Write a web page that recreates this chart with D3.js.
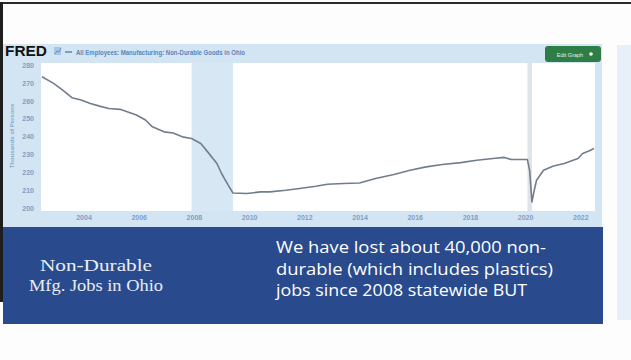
<!DOCTYPE html>
<html><head><meta charset="utf-8">
<script src="https://cdn.jsdelivr.net/npm/d3@7"></script>
<style>html,body{margin:0;padding:0;background:#fff;overflow:hidden;} svg{display:block;}</style>
</head><body><svg id="c" width="631" height="360"></svg>
<script>
// ---- data ----
const dates = ["2002-07","2002-12","2003-04","2003-08","2003-12","2004-04","2004-08","2004-12",
  "2005-05","2005-08","2005-12","2006-04","2006-07","2006-12","2007-04","2007-08","2007-12",
  "2008-04","2008-07","2008-11","2009-01","2009-04","2009-06","2009-12","2010-06","2010-10",
  "2011-05","2011-11","2012-06","2012-11","2013-06","2014-01","2014-08","2015-04","2015-11",
  "2016-06","2017-01","2017-09","2018-04","2018-11","2019-04","2019-07","2020-02","2020-03",
  "2020-04","2020-05","2020-06","2020-09","2021-01","2021-06","2021-09","2021-12","2022-02",
  "2022-05","2022-07"];
const values = [273.4,269.7,266.0,261.7,260.4,258.5,257.0,255.7,
  255.2,253.8,252.0,249.2,245.4,242.6,242.0,239.8,238.9,
  236.1,231.4,224.9,219.3,212.7,208.4,208.1,209.0,209.0,
  209.9,210.9,212.2,213.3,213.7,214.0,216.5,218.7,221.1,
  223.0,224.3,225.4,226.7,227.7,228.3,227.1,227.1,221.1,
  203.4,209.9,215.5,221.1,223.4,224.9,226.3,227.7,230.5,
  232.0,233.3];
const yTicks = [200,210,220,230,240,250,260,270,280];
const xTicks = ["2004","2006","2008","2010","2012","2014","2016","2018","2020","2022"];
const recessionStarts = ["2007-12","2020-02"];
const recessionEnds = ["2009-06","2020-04"];
const seriesTitle = "All Employees: Manufacturing: Non-Durable Goods in Ohio";
const axisTitle = "Thousands of Persons";
const bannerLeft = ["Non-Durable","Mfg. Jobs in Ohio"];
const bannerRight = ["We have lost about 40,000 non-","durable (which includes plastics)","jobs since 2008 statewide BUT"];

// ---- drawing ----
const svg = d3.select("#c");
const parse = d3.utcParse("%Y-%m");
const parseY = d3.utcParse("%Y");

// slide frame
svg.append("rect").attr("x",0).attr("y",0).attr("width",631).attr("height",360).attr("fill","#fdfdfd");
svg.append("rect").attr("x",0).attr("y",2).attr("width",631).attr("height",2).attr("fill","#2a2a2a");
svg.append("rect").attr("x",0).attr("y",2).attr("width",3).attr("height",300).attr("fill","#1e1e1e");

// faded neighbour panel on the right
svg.append("rect").attr("x",617).attr("y",45).attr("width",14).attr("height",275).attr("fill","#e7f0f8");

// FRED panel
svg.append("rect").attr("x",3).attr("y",44).attr("width",599).attr("height",183).attr("fill","#d3e5f3");

const x = d3.scaleUtc().domain([parse("2002-07"), parse("2022-07")]).range([42, 594]);
const y = d3.scaleLinear().domain([200, 280]).range([208, 65]);

// plot area
svg.append("rect").attr("x",41).attr("y",63).attr("width",554).attr("height",148).attr("fill","#ffffff");

// recessions
svg.append("g").selectAll("rect").data(recessionStarts.map((s,i)=>[s,recessionEnds[i]])).join("rect")
  .attr("x", d => x(parse(d[0])))
  .attr("width", d => Math.max(1, x(parse(d[1])) - x(parse(d[0]))))
  .attr("y", 63).attr("height", 148)
  .attr("fill", (d,i) => i === 0 ? "#d7e8f4" : "#dfe3ea");

// line
const pts = dates.map((d,i) => ({date: parse(d), value: values[i]}));
svg.append("path").datum(pts)
  .attr("fill","none").attr("stroke","#717d8b").attr("stroke-width",1.6)
  .attr("stroke-linejoin","round")
  .attr("d", d3.line().x(d => x(d.date)).y(d => y(d.value)));

// axes
const xAxis = svg.append("g").attr("transform","translate(0,213)")
  .call(d3.axisBottom(x).tickValues(xTicks.map(parseY)).tickSize(0).tickPadding(2).tickFormat(d3.utcFormat("%Y")));
xAxis.select(".domain").remove();
xAxis.selectAll("text").attr("fill","#7d9fc6").attr("font-size","7px").attr("font-weight","bold")
  .attr("font-family","Liberation Sans, Arial, sans-serif");

const yAxis = svg.append("g").attr("transform","translate(36,0)")
  .call(d3.axisLeft(y).tickValues(yTicks).tickSize(0).tickPadding(2));
yAxis.select(".domain").remove();
yAxis.selectAll("text").attr("fill","#7d9fc6").attr("font-size","7px").attr("font-weight","bold")
  .attr("font-family","Liberation Sans, Arial, sans-serif");

svg.append("text").attr("transform","translate(14,136) rotate(-90)")
  .attr("text-anchor","middle").attr("font-size","6px").attr("font-weight","bold")
  .attr("fill","#88a8cc").attr("font-family","Liberation Sans, Arial, sans-serif").text(axisTitle);

// header: logo, legend, button
svg.append("text").attr("x",5).attr("y",56).attr("font-size","15px").attr("font-weight","900")
  .attr("font-family","Liberation Sans, Arial, sans-serif").attr("fill","#111")
  .attr("textLength",42).attr("lengthAdjust","spacingAndGlyphs").text("FRED");
const icon = svg.append("g").attr("transform","translate(54,47)");
icon.append("rect").attr("x",0).attr("y",0).attr("width",7).attr("height",8).attr("fill","#a9c6e6");
icon.append("path").attr("d","M1,7 L3,4 L5,5 L7,1").attr("stroke","#5d8fd0").attr("stroke-width",1).attr("fill","none");
svg.append("line").attr("x1",65).attr("x2",72).attr("y1",52).attr("y2",52).attr("stroke","#5d86bf").attr("stroke-width",1.5);
svg.append("text").attr("x",76).attr("y",54.5).attr("font-size","6.5px").attr("font-weight","bold")
  .attr("font-family","Liberation Sans, Arial, sans-serif").attr("fill","#5a84bc")
  .attr("textLength",169).attr("lengthAdjust","spacingAndGlyphs").text(seriesTitle);
svg.append("rect").attr("x",545).attr("y",46).attr("width",56).attr("height",16).attr("rx",3).attr("fill","#2e7d46");
svg.append("text").attr("x",570).attr("y",56.5).attr("text-anchor","middle").attr("font-size","5.5px")
  .attr("font-family","Liberation Sans, Arial, sans-serif").attr("fill","#e4f1e8").text("Edit Graph");
svg.append("circle").attr("cx",591).attr("cy",54).attr("r",1.8).attr("fill","#ffffff");

// blue banner
svg.append("rect").attr("x",3).attr("y",227).attr("width",600).attr("height",97).attr("fill","#294b8d");
svg.append("g").selectAll("text").data(bannerLeft).join("text")
  .attr("x",96).attr("y",(d,i) => 271 + i*20).attr("text-anchor","middle")
  .attr("font-family","Liberation Serif, Times New Roman, serif").attr("font-size","17px")
  .attr("fill","#e9edf6")
  .attr("textLength",(d,i) => i === 0 ? 112 : 134).attr("lengthAdjust","spacingAndGlyphs")
  .text(d => d);
svg.append("g").selectAll("text").data(bannerRight).join("text")
  .attr("x",276).attr("y",(d,i) => 253 + i*21.5)
  .attr("font-family","Open Sans, Lato, sans-serif").attr("font-size","16.5px")
  .attr("fill","#ffffff")
  .attr("textLength",(d,i) => [270,277,251][i]).attr("lengthAdjust","spacingAndGlyphs")
  .text(d => d);
</script></body></html>
